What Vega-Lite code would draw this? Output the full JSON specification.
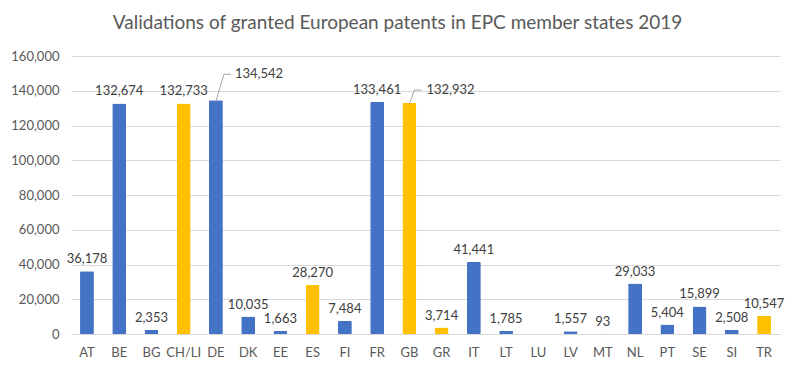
{
  "$schema": "https://vega.github.io/schema/vega-lite/v6.json",
  "width": 800,
  "height": 369,
  "autosize": {"type": "fit", "contains": "padding"},
  "padding": {"left": 10, "right": 17, "top": 14, "bottom": 10},
  "background": "white",
  "title": {
    "text": "Validations of granted European patents in EPC member states 2019",
    "font": "Lato",
    "fontSize": 19,
    "fontWeight": "normal",
    "color": "#595959",
    "offset": 17,
    "anchor": "middle",
    "frame": "bounds"
  },
  "data": {
    "values": [
      {"country": "AT", "value": 36178, "group": "blue"},
      {"country": "BE", "value": 132674, "group": "blue"},
      {"country": "BG", "value": 2353, "group": "blue"},
      {"country": "CH/LI", "value": 132733, "group": "yellow"},
      {"country": "DE", "value": 134542, "group": "blue"},
      {"country": "DK", "value": 10035, "group": "blue"},
      {"country": "EE", "value": 1663, "group": "blue"},
      {"country": "ES", "value": 28270, "group": "yellow"},
      {"country": "FI", "value": 7484, "group": "blue"},
      {"country": "FR", "value": 133461, "group": "blue"},
      {"country": "GB", "value": 132932, "group": "yellow"},
      {"country": "GR", "value": 3714, "group": "yellow"},
      {"country": "IT", "value": 41441, "group": "blue"},
      {"country": "LT", "value": 1785, "group": "blue"},
      {"country": "LU", "value": null, "group": "blue"},
      {"country": "LV", "value": 1557, "group": "blue"},
      {"country": "MT", "value": 93, "group": "blue"},
      {"country": "NL", "value": 29033, "group": "blue"},
      {"country": "PT", "value": 5404, "group": "blue"},
      {"country": "SE", "value": 15899, "group": "blue"},
      {"country": "SI", "value": 2508, "group": "blue"},
      {"country": "TR", "value": 10547, "group": "yellow"}
    ]
  },
  "encoding": {
    "x": {
      "field": "country",
      "type": "nominal",
      "sort": null,
      "scale": {
        "domain": ["AT", "BE", "BG", "CH/LI", "DE", "DK", "EE", "ES", "FI", "FR", "GB", "GR", "IT", "LT", "LU", "LV", "MT", "NL", "PT", "SE", "SI", "TR"],
        "paddingInner": 0.57,
        "paddingOuter": 0.28
      },
      "axis": {
        "title": null,
        "labelAngle": 0,
        "labelFont": "Lato",
        "labelFontSize": 13,
        "labelColor": "#595959",
        "labelPadding": 12,
        "ticks": false,
        "domain": true,
        "domainColor": "#D9D9D9"
      }
    },
    "y": {
      "field": "value",
      "type": "quantitative",
      "scale": {"domain": [0, 160000]},
      "axis": {
        "title": null,
        "values": [0, 20000, 40000, 60000, 80000, 100000, 120000, 140000, 160000],
        "labelExpr": "format(datum.value, ',')",
        "labelOverlap": false,
        "labelFont": "Lato",
        "labelFontSize": 13,
        "labelColor": "#595959",
        "labelPadding": 12,
        "ticks": false,
        "domain": false,
        "gridColor": "#D9D9D9"
      }
    }
  },
  "layer": [
    {
      "mark": {"type": "bar", "cornerRadius": 1},
      "encoding": {
        "color": {
          "field": "group",
          "type": "nominal",
          "scale": {"domain": ["blue", "yellow"], "range": ["#4472C4", "#FFC000"]},
          "legend": null
        }
      }
    },
    {
      "transform": [{"filter": "datum.country !== 'DE' && datum.country !== 'GB'"}],
      "mark": {"type": "text", "baseline": "bottom", "dy": -5, "font": "Lato", "fontSize": 13, "color": "#404040"},
      "encoding": {"text": {"field": "value", "type": "quantitative", "format": ","}}
    },
    {
      "transform": [{"filter": "datum.country === 'DE'"}],
      "mark": {"type": "text", "baseline": "middle", "align": "left", "dx": 19, "dy": -26, "font": "Lato", "fontSize": 13, "color": "#404040"},
      "encoding": {"text": {"field": "value", "type": "quantitative", "format": ","}}
    },
    {
      "transform": [{"filter": "datum.country === 'GB'"}],
      "mark": {"type": "text", "baseline": "middle", "align": "left", "dx": 17, "dy": -13, "font": "Lato", "fontSize": 13, "color": "#404040"},
      "encoding": {"text": {"field": "value", "type": "quantitative", "format": ","}}
    },
    {
      "transform": [{"filter": "datum.country === 'DE'"}],
      "mark": {"type": "rule", "color": "#A6A6A6", "strokeWidth": 1, "yOffset": 1, "y2Offset": -26, "xOffset": 0, "x2Offset": 8},
      "encoding": {"x2": {"field": "country"}, "y2": {"field": "value"}}
    },
    {
      "transform": [{"filter": "datum.country === 'DE'"}],
      "mark": {"type": "rule", "color": "#A6A6A6", "strokeWidth": 1, "yOffset": -26, "y2Offset": -26, "xOffset": 8, "x2Offset": 15},
      "encoding": {"x2": {"field": "country"}, "y2": {"field": "value"}}
    },
    {
      "transform": [{"filter": "datum.country === 'GB'"}],
      "mark": {"type": "rule", "color": "#A6A6A6", "strokeWidth": 1, "yOffset": 1, "y2Offset": -13, "xOffset": 0, "x2Offset": 5},
      "encoding": {"x2": {"field": "country"}, "y2": {"field": "value"}}
    },
    {
      "transform": [{"filter": "datum.country === 'GB'"}],
      "mark": {"type": "rule", "color": "#A6A6A6", "strokeWidth": 1, "yOffset": -13, "y2Offset": -13, "xOffset": 5, "x2Offset": 12},
      "encoding": {"x2": {"field": "country"}, "y2": {"field": "value"}}
    }
  ],
  "config": {
    "view": {"stroke": null}
  }
}
